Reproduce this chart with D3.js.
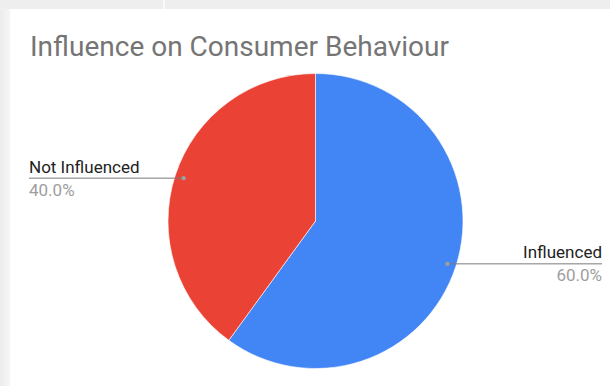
<!DOCTYPE html>
<html>
<head>
<meta charset="utf-8">
<script src="https://cdn.jsdelivr.net/npm/d3@7"></script>
<style>
  html, body { margin: 0; padding: 0; background: #fff; }
  svg { display: block; font-family: Roboto, Arial, sans-serif; }
</style>
</head>
<body>
<svg id="chart"></svg>
<script>
// chart data
const title = "Influence on Consumer Behaviour";
const categories = ["Influenced", "Not Influenced"];
const values = [60, 40];
const colors = ["#4285f4", "#ea4335"];

const width = 610;
const height = 386;

const svg = d3.select("#chart").attr("width", width).attr("height", height);

// page background strips around the card
svg.append("rect").attr("width", width).attr("height", height).attr("fill", "#fff");
const grad = svg.append("defs").append("linearGradient").attr("id", "leftShade");
grad.append("stop").attr("offset", "0%").attr("stop-color", "#ececec");
grad.append("stop").attr("offset", "100%").attr("stop-color", "#f6f6f6");
svg.append("rect").attr("width", 10).attr("height", height).attr("fill", "url(#leftShade)");
svg.append("rect").attr("width", width).attr("height", 9).attr("fill", "#eeeeee");
svg.append("rect").attr("x", 163).attr("width", 2).attr("height", 9).attr("fill", "#fafafa");

// title
svg.append("text")
  .attr("x", 30)
  .attr("y", 56)
  .attr("fill", "#757575")
  .attr("font-size", "28px")
  .text(title);

// pie
const cx = 315.5, cy = 221, radius = 147.5;
const g = svg.append("g").attr("transform", `translate(${cx},${cy})`);

const pie = d3.pie().sort(null).startAngle(0).endAngle(2 * Math.PI);
const arcs = pie(values);
const arc = d3.arc().innerRadius(0).outerRadius(radius);

g.selectAll("path")
  .data(arcs)
  .enter()
  .append("path")
  .attr("d", arc)
  .attr("fill", (d, i) => colors[i])
  .attr("stroke", "#fff")
  .attr("stroke-width", 0.6);

// leader lines and labels
const total = d3.sum(values);
const dotArc = d3.arc().innerRadius(radius * 0.94).outerRadius(radius * 0.94);

arcs.forEach((d, i) => {
  const [dx, dy] = dotArc.centroid(d);
  const px = cx + dx, py = cy + dy;
  const right = dx > 0;
  const endX = right ? 602 : 29;

  svg.append("line")
    .attr("x1", px).attr("y1", py)
    .attr("x2", endX).attr("y2", py)
    .attr("stroke", "#7a7a7a")
    .attr("stroke-width", 1);

  svg.append("circle")
    .attr("cx", px).attr("cy", py).attr("r", 2.2)
    .attr("fill", "#9e9e9e");

  const anchor = right ? "end" : "start";
  svg.append("text")
    .attr("x", endX).attr("y", py - 5.5)
    .attr("text-anchor", anchor)
    .attr("font-size", "17px")
    .attr("fill", "#222")
    .text(categories[i]);

  svg.append("text")
    .attr("x", endX).attr("y", py + 17.5)
    .attr("text-anchor", anchor)
    .attr("font-size", "17px")
    .attr("fill", "#9e9e9e")
    .text(d3.format(".1f")(values[i] / total * 100) + "%");
});
</script>
</body>
</html>
